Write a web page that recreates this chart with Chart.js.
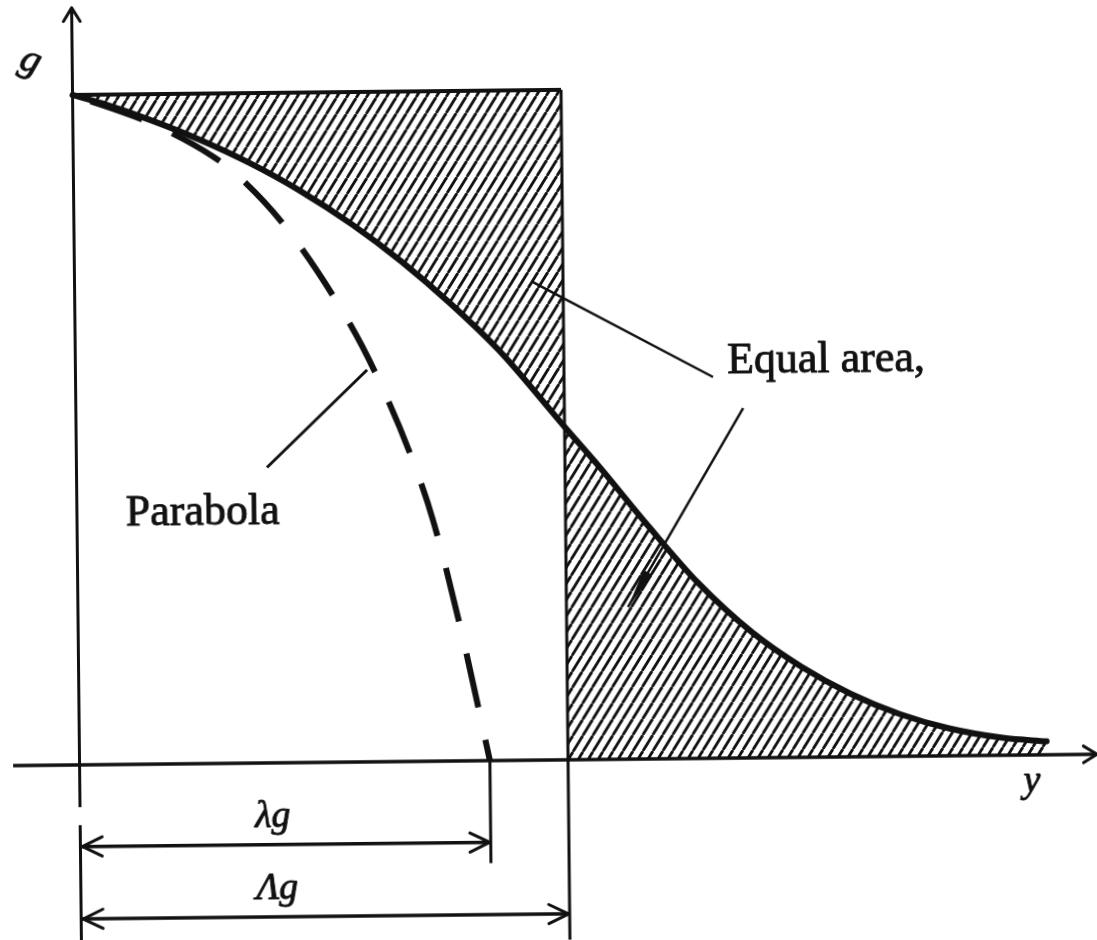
<!DOCTYPE html>
<html>
<head>
<meta charset="utf-8">
<script src="https://cdn.jsdelivr.net/npm/chart.js@4.4.0/dist/chart.umd.min.js"></script>
<style>
  html, body { margin: 0; padding: 0; background: #fff; }
  #wrap { width: 1097px; height: 940px; overflow: hidden; background: #fff; }
  #fig { display: block; transform: rotate(-0.6deg); }
</style>
</head>
<body>
<div id="wrap"><canvas id="fig" width="1097" height="940"></canvas></div>
<script>
// distance from the wall, in units of the equal-area length, and the profile g there
const yPos    = [0, 0.06, 0.16, 0.26, 0.36, 0.46, 0.57, 0.67, 0.77, 0.87, 1.00, 1.07, 1.17, 1.27, 1.38, 1.48, 1.58, 1.68, 1.78, 1.89, 1.98];
const gValues = [1.0, 0.987, 0.961, 0.931, 0.896, 0.855, 0.802, 0.746, 0.682, 0.610, 0.497, 0.437, 0.347, 0.262, 0.187, 0.135, 0.094, 0.063, 0.041, 0.026, 0.020];

// the parabola fitted at the wall (dashed)
const parabolaY = [0, 0.158, 0.286, 0.335, 0.436, 0.559, 0.613, 0.683, 0.729, 0.785, 0.840];
const parabolaG = [1.0, 0.957, 0.906, 0.878, 0.797, 0.659, 0.582, 0.460, 0.359, 0.191, 0.0];

// the two length scales marked under the axis
const lambdaG = 0.84;
const LambdaG = 1.0;

const textG = 'g';
const textY = 'y';
const textLambda = 'λg';
const textLambdaBig = 'Λg';
const textEqual = 'Equal area,';
const textParabola = 'Parabola';

// visible window in data units
const xMin = -0.1566, xMax = 2.089;
const gMin = -0.2687, gMax = 1.1343;

// label and leader placement (data units)
const notes = {
  g: [-0.085, 1.051],
  y: [1.932, -0.055],
  lambda: [0.358, -0.0955],
  Lambda: [0.359, -0.203],
  equal: [1.334, 0.575],
  parabola: [0.100, 0.356],
  leaderEqualA: [[0.937, 0.714], [1.305, 0.569]],
  leaderEqualB: [[1.366, 0.522], [1.126, 0.227]],
  leaderParabola: [[0.390, 0.441], [0.597, 0.585]],
  lambdaRow: -0.122,
  LambdaRow: -0.230,
  xAxis: [-0.136, 2.083],
  yAxis: [-0.063, 1.13],
  wallTick: -0.09,
  lambdaTick: -0.153
};

const pts = (xs, gs) => xs.map((x, i) => ({ x: x, y: gs[i] }));
const seg = (a, b) => [{ x: a[0], y: a[1] }, { x: b[0], y: b[1] }];

const curve = pts(yPos, gValues);
const parabola = pts(parabolaY, parabolaG);

function hatch(ctx) {
  const t = document.createElement('canvas');
  t.width = 10; t.height = 16;
  const c = t.getContext('2d');
  c.strokeStyle = '#111';
  c.lineWidth = 2.8;
  for (const dx of [-10, 0, 10]) {
    c.beginPath(); c.moveTo(dx, 16); c.lineTo(dx + 10, 0); c.stroke();
  }
  return ctx.createPattern(t, 'repeat');
}

const canvas = document.getElementById('fig');
const ctx = canvas.getContext('2d');
const pattern = hatch(ctx);

// hatched part of the rectangle above the profile, and the tail under it
const upperRegion = [{ x: 0, y: 1 }, { x: LambdaG, y: 1 }]
  .concat(curve.filter(p => p.x <= LambdaG).reverse());
const tail = curve.filter(p => p.x >= LambdaG);
const lowerRegion = tail.concat([{ x: tail[tail.length - 1].x, y: 0 }, { x: LambdaG, y: 0 }]);

function line(data, width, extra) {
  return Object.assign({
    data: data, showLine: true, borderColor: '#111', borderWidth: width,
    pointRadius: 0, fill: false, tension: 0, order: 1, borderCapStyle: 'butt'
  }, extra || {});
}

const datasets = [
  line(upperRegion, 0, { fill: 'shape', backgroundColor: pattern, order: 10 }),
  line(lowerRegion, 0, { fill: 'shape', backgroundColor: pattern, order: 10 }),
  line(curve, 6, { cubicInterpolationMode: 'monotone', borderCapStyle: 'round' }),
  line(parabola, 6, { cubicInterpolationMode: 'monotone', borderDash: [55, 33], borderDashOffset: 69 }),
  line(seg([0, 1], [LambdaG, 1]), 4),
  line(seg([LambdaG, 1], [LambdaG, gMin]), 3),
  line(seg([notes.xAxis[0], 0], [notes.xAxis[1], 0]), 3.5),
  line(seg([0, notes.yAxis[0]], [0, notes.yAxis[1]]), 3),
  line(seg([0, notes.wallTick], [0, gMin]), 3),
  line(seg([lambdaG, 0], [lambdaG, notes.lambdaTick]), 3),
  line(seg([0, notes.lambdaRow], [lambdaG, notes.lambdaRow]), 3.5),
  line(seg([0, notes.LambdaRow], [LambdaG, notes.LambdaRow]), 3.5),
  line(seg(notes.leaderEqualA[0], notes.leaderEqualA[1]), 2.5),
  line(seg(notes.leaderEqualB[0], notes.leaderEqualB[1]), 2.5),
  line(seg(notes.leaderParabola[0], notes.leaderParabola[1]), 3)
];

function openHead(c, px, py, ang, len, spread) {
  c.beginPath();
  c.moveTo(px - len * Math.cos(ang - spread), py - len * Math.sin(ang - spread));
  c.lineTo(px, py);
  c.lineTo(px - len * Math.cos(ang + spread), py - len * Math.sin(ang + spread));
  c.stroke();
}

function heavyText(c, s, x, y) {
  c.fillText(s, x, y);
  c.strokeText(s, x, y);
}

const decorations = {
  id: 'decorations',
  afterDatasetsDraw(chart) {
    const c = chart.ctx;
    const sx = chart.scales.x, sy = chart.scales.y;
    const X = v => sx.getPixelForValue(v);
    const Y = v => sy.getPixelForValue(v);
    c.save();
    c.strokeStyle = '#111';
    c.fillStyle = '#111';
    c.lineWidth = 3;
    c.lineCap = 'round';
    c.lineJoin = 'round';

    // axis arrows
    openHead(c, X(notes.xAxis[1]), Y(0), 0, 16, 0.55);
    openHead(c, X(0), Y(notes.yAxis[1]), -Math.PI / 2, 16, 0.55);

    // dimension arrows
    for (const [end, row] of [[lambdaG, notes.lambdaRow], [LambdaG, notes.LambdaRow]]) {
      openHead(c, X(0) + 2, Y(row), Math.PI, 22, 0.45);
      openHead(c, X(end) - 1, Y(row), 0, 22, 0.45);
    }

    // filled head on the lower leader
    const [a, b] = notes.leaderEqualB;
    const ax = X(a[0]), ay = Y(a[1]), bx = X(b[0]), by = Y(b[1]);
    const ang = Math.atan2(by - ay, bx - ax);
    const hl = 40, hw = 5;
    c.beginPath();
    c.moveTo(bx, by);
    c.lineTo(bx - hl * Math.cos(ang) + hw * Math.sin(ang), by - hl * Math.sin(ang) - hw * Math.cos(ang));
    c.lineTo(bx - hl * Math.cos(ang) - hw * Math.sin(ang), by - hl * Math.sin(ang) + hw * Math.cos(ang));
    c.closePath();
    c.fill();

    // labels
    c.lineWidth = 0.9;
    c.textBaseline = 'alphabetic';
    c.textAlign = 'left';
    c.font = '44px "Liberation Serif", serif';
    heavyText(c, textEqual, X(notes.equal[0]), Y(notes.equal[1]));
    heavyText(c, textParabola, X(notes.parabola[0]), Y(notes.parabola[1]));

    c.font = 'italic 38px "Liberation Serif", serif';
    heavyText(c, textLambda, X(notes.lambda[0]), Y(notes.lambda[1]));
    heavyText(c, textLambdaBig, X(notes.Lambda[0]), Y(notes.Lambda[1]));
    heavyText(c, textY, X(notes.y[0]), Y(notes.y[1]));

    c.save();
    c.translate(X(notes.g[0]), Y(notes.g[1]));
    c.rotate(0.35);
    c.font = 'italic 40px "Liberation Serif", serif';
    c.textAlign = 'center';
    c.textBaseline = 'middle';
    heavyText(c, textG, 0, 0);
    c.restore();

    c.restore();
  }
};

new Chart(ctx, {
  type: 'scatter',
  data: { datasets: datasets },
  options: {
    responsive: false,
    devicePixelRatio: 1,
    animation: false,
    events: [],
    layout: { padding: 0 },
    scales: {
      x: { type: 'linear', display: false, min: xMin, max: xMax },
      y: { type: 'linear', display: false, min: gMin, max: gMax }
    },
    plugins: { legend: { display: false }, tooltip: { enabled: false } }
  },
  plugins: [decorations]
});
</script>
</body>
</html>
